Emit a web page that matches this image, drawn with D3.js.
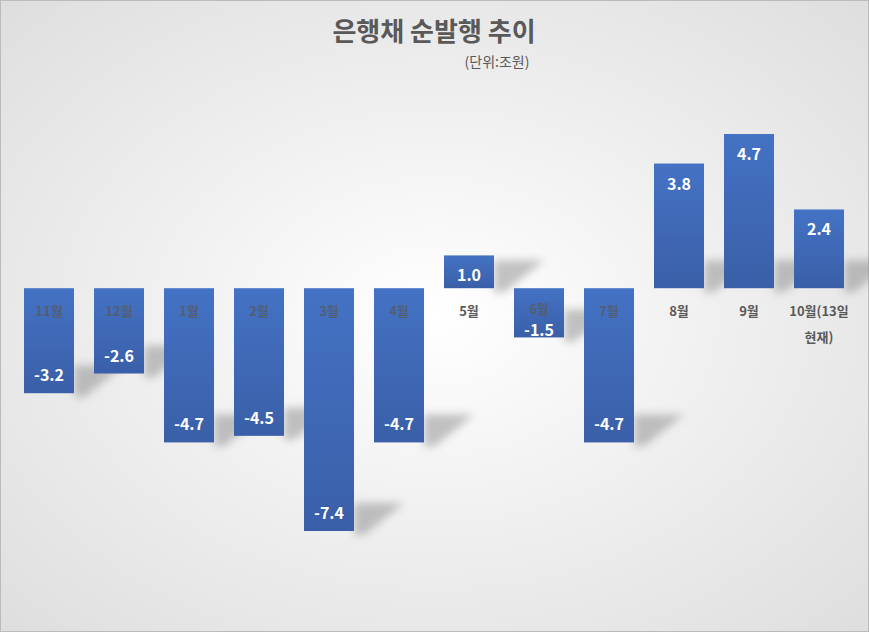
<!DOCTYPE html>
<html><head><meta charset="utf-8">
<script src="https://cdn.jsdelivr.net/npm/d3@7"></script>
<style>body{margin:0;}svg{display:block;font-family:"Noto Sans CJK KR","Malgun Gothic",sans-serif;}</style>
</head><body><svg id="c" width="869" height="632"></svg>
<script>
const categories=["11월","12월","1월","2월","3월","4월","5월","6월","7월","8월","9월","10월(13일 현재)"];
const values=[-3.2,-2.6,-4.7,-4.5,-7.4,-4.7,1.0,-1.5,-4.7,3.8,4.7,2.4];
const title="은행채 순발행 추이", unit="(단위:조원)";
const svg=d3.select("#c"), W=869,H=632;
const defs=svg.append("defs");
const bg=defs.append("radialGradient").attr("id","bg").attr("cx","50%").attr("cy","50%").attr("r","75%");
bg.append("stop").attr("offset","0%").attr("stop-color","#ffffff");
bg.append("stop").attr("offset","100%").attr("stop-color","#dcdcdc");
const bar=defs.append("linearGradient").attr("id","bar").attr("x1",0).attr("y1",0).attr("x2",0).attr("y2",1);
bar.append("stop").attr("offset","0%").attr("stop-color","#4472c4");
bar.append("stop").attr("offset","100%").attr("stop-color","#3a5fa8");
defs.append("filter").attr("id","blur").attr("x","-50%").attr("y","-50%").attr("width","200%").attr("height","200%")
 .append("feGaussianBlur").attr("stdDeviation",4);
svg.append("rect").attr("x",0.5).attr("y",0.5).attr("width",W-1).attr("height",H-1).attr("fill","url(#bg)").attr("stroke","#bbb");
svg.append("text").attr("x",434).attr("y",41).attr("text-anchor","middle").attr("font-size",26).attr("font-weight","bold").attr("fill","#595959").text(title);
svg.append("text").attr("x",497).attr("y",67).attr("text-anchor","middle").attr("font-size",14).attr("fill","#595959").text(unit);
const x=d3.scaleBand().domain(categories).range([14,854]).paddingInner(20/70).paddingOuter(10/70);
const y=d3.scaleLinear().domain([-7.4,4.7]).range([531,134]);
const g=svg.append("g");
values.forEach((v,i)=>{
  const x0=x(categories[i]), bw=x.bandwidth(), e=y(v), z=y(0);
  const bot=Math.max(e,z), h=Math.min(28,Math.abs(e-z));
  const pts=[[x0+bw,bot-h],[x0+bw+50,bot-h],[x0+bw+10,bot+4],[x0+bw,bot+4]];
  g.append("polygon").attr("points",pts.map(p=>p.join(",")).join(" ")).attr("fill","#8a8a8a").attr("opacity",0.5).attr("filter","url(#blur)");
});
values.forEach((v,i)=>{
  const x0=x(categories[i]), bw=x.bandwidth();
  g.append("rect").attr("x",x0).attr("width",bw).attr("y",Math.min(y(v),y(0))).attr("height",Math.abs(y(v)-y(0))).attr("fill","url(#bar)");
});
values.forEach((v,i)=>{
  const cx=x(categories[i])+x.bandwidth()/2;
  let ly=v<0?y(v)-12:y(v)+26;
  if(v<0 && y(v)-y(0)<60) ly=y(v)-1;
  g.append("text").attr("x",cx).attr("y",ly).attr("text-anchor","middle").attr("font-size",16).attr("font-weight","bold").attr("fill","#fff").text(v.toFixed(1));
  const lab=categories[i];
  const t=g.append("text").attr("text-anchor","middle").attr("font-size",13).attr("font-weight","bold").attr("fill","#595959").attr("fill-opacity",v<0?0.75:1);
  if(lab.includes(" ")){
    const parts=lab.split(" ");
    t.append("tspan").attr("x",cx).attr("y",316).text(parts[0]);
    t.append("tspan").attr("x",cx).attr("y",342).text(parts[1]);
  } else t.append("tspan").attr("x",cx).attr("y",v<0&&y(v)-y(0)<60?314:316).text(lab);
});
</script></body></html>
